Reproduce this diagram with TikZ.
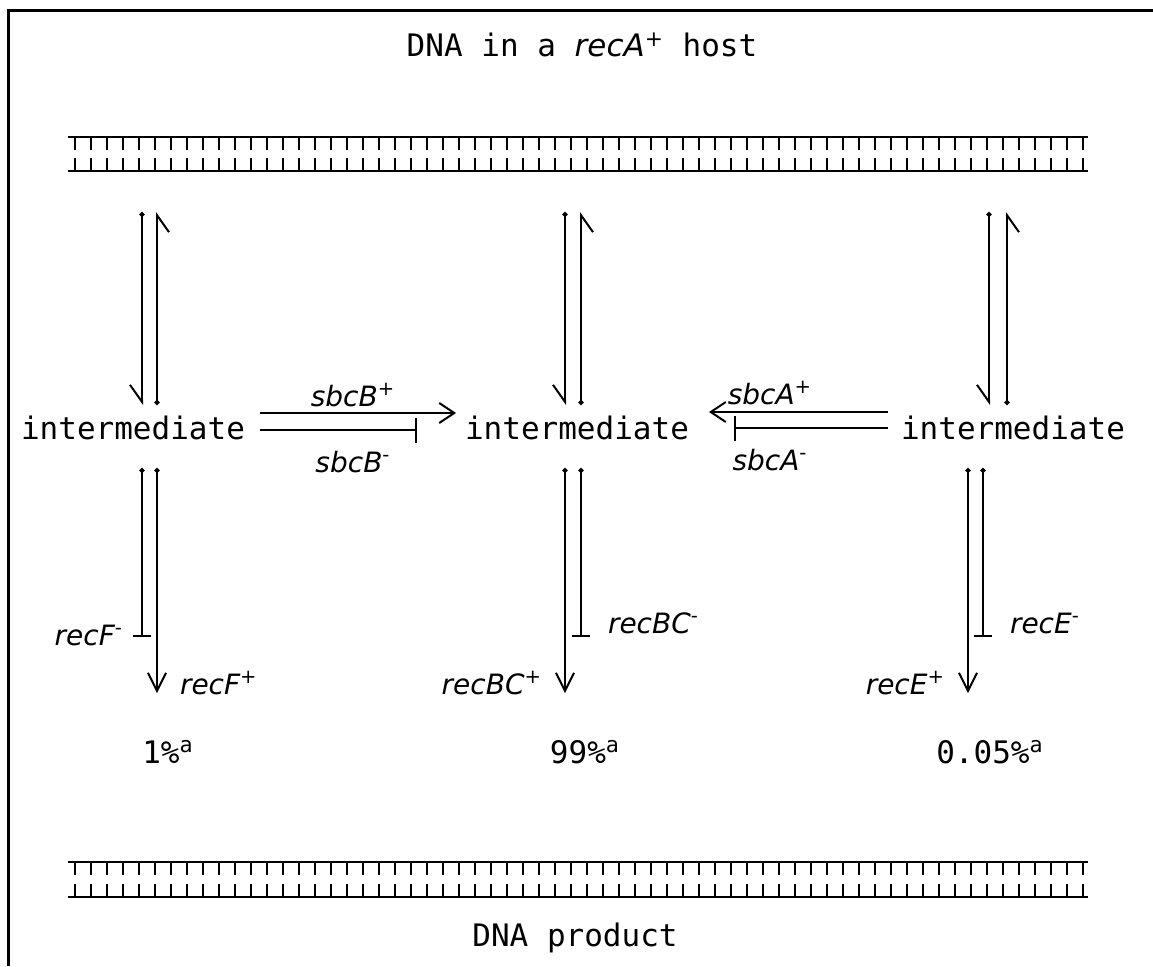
\documentclass[tikz,border=0pt]{standalone}
\usepackage{fontspec}
\setmainfont{DejaVu Sans Mono}
\newfontfamily\genefont{DejaVu Sans}
\usetikzlibrary{arrows.meta,positioning,calc}

\newcommand{\gene}[2]{{\genefont\itshape #1}\textsuperscript{\genefont #2}}

\begin{document}
\begin{tikzpicture}[
  x=0.5pt,
  y=-0.5pt,
  line width=1pt,
  word/.style={font=\fontsize{15.5}{18}\selectfont,inner sep=0pt},
  genetext/.style={font=\fontsize{14}{17}\selectfont,inner sep=0pt},
  strand/.style={line width=1.4pt},
  rung/.style={line width=1.2pt},
  fwd/.style={{Circle[length=2.5pt]}-{Straight Barb[harpoon,swap,length=8.5pt,width=12pt]}},
  go/.style={{Circle[length=2.5pt]}-{Straight Barb[length=9pt,width=9pt]}},
  block/.style={{Circle[length=2.5pt]}-{Bar[width=9pt]}},
  hgo/.style={-{Straight Barb[length=7.5pt,width=10pt]}},
  hblock/.style={-{Bar[width=12.5pt]}}
]
\useasboundingbox (0,0) rectangle (1153,966);

% frame
\draw[line width=1.5pt] (8,966) -- (8,10) -- (1153,10);

\node[word] (title) at (582,45) {DNA in a \gene{recA}{+} host};

% top duplex
\draw[strand] (68,137) -- (1088,137);
\draw[strand] (68,171) -- (1088,171);
\foreach \i in {0,...,63} {
  \draw[rung] (75+16*\i,137) -- ++(0,13);
  \draw[rung] (75+16*\i,171) -- ++(0,-13);
}

\node[word] (intL) at (133,428) {intermediate};
\node[word] (intM) at (577,428) {intermediate};
\node[word] (intR) at (1013,428) {intermediate};

% ends of the vertical steps
\coordinate (upL) at (149.5,212);
\coordinate (midL) at (149.5,405);
\coordinate (lowL) at (149.5,468);
\coordinate (endL) at (149.5,693);
\coordinate (upM) at (573,212);
\coordinate (midM) at (573,405);
\coordinate (lowM) at (573,468);
\coordinate (endM) at (573,693);
\coordinate (upR) at (998,212);
\coordinate (midR) at (998,405);
\coordinate (lowR) at (975.5,468);
\coordinate (endR) at (975.5,693);

\draw[fwd] ([xshift=-3.75pt]upL) -- ([xshift=-3.75pt]midL);
\draw[fwd] ([xshift=3.75pt]midL) -- ([xshift=3.75pt]upL);
\draw[fwd] ([xshift=-4pt]upM) -- ([xshift=-4pt]midM);
\draw[fwd] ([xshift=4pt]midM) -- ([xshift=4pt]upM);
\draw[fwd] ([xshift=-4.5pt]upR) -- ([xshift=-4.5pt]midR);
\draw[fwd] ([xshift=4.5pt]midR) -- ([xshift=4.5pt]upR);

\draw[block] ([xshift=-3.75pt]lowL) -- ([shift={(-7.5,-56)}]endL);
\draw[go] ([xshift=3.75pt]lowL) -- ([xshift=3.75pt]endL);
\draw[go] ([xshift=-4pt]lowM) -- ([xshift=-4pt]endM);
\draw[block] ([xshift=4pt]lowM) -- ([shift={(8,-56)}]endM);
\draw[go] ([xshift=-3.75pt]lowR) -- ([xshift=-3.75pt]endR);
\draw[block] ([xshift=3.75pt]lowR) -- ([shift={(7.5,-56)}]endR);

\node[genetext,left=9pt of {$(endL)+(-7.5,-58)$}] (recFm) {\gene{recF}{-}};
\node[genetext,right=11pt of {$(endL)+(7.5,-10)$}] (recFp) {\gene{recF}{+}};
\node[genetext,right=13pt of {$(endM)+(8,-70)$}] (recBCm) {\gene{recBC}{-}};
\node[genetext,left=11pt of {$(endM)+(-8,-10)$}] (recBCp) {\gene{recBC}{+}};
\node[genetext,right=13pt of {$(endR)+(7.5,-70)$}] (recEm) {\gene{recE}{-}};
\node[genetext,left=11pt of {$(endR)+(-7.5,-10)$}] (recEp) {\gene{recE}{+}};

% side reactions
\draw[hgo] ([shift={(14,-15)}]intL.east) -- ([shift={(-8,-15)}]intM.west);
\draw[hblock] ([shift={(14,2)}]intL.east) -- ([shift={(-47,2)}]intM.west);
\draw[hgo] ([shift={(-12,-16)}]intR.west) -- ([shift={(19,-16)}]intM.east);
\draw[hblock] ([shift={(-12,0)}]intR.west) -- ([shift={(44,0)}]intM.east);

\node[genetext] (sbcBp) at (353,395) {\gene{sbcB}{+}};
\node[genetext] (sbcBm) at (353,462) {\gene{sbcB}{-}};
\node[genetext] (sbcAp) at (770,393) {\gene{sbcA}{+}};
\node[genetext] (sbcAm) at (770,460) {\gene{sbcA}{-}};

\node[word] (pctL) at (168,752) {1\%\textsuperscript{a}};
\node[word] (pctM) at (585,752) {99\%\textsuperscript{a}};
\node[word] (pctR) at (990,752) {0.05\%\textsuperscript{a}};

% bottom duplex
\draw[strand] (68,862) -- (1088,862);
\draw[strand] (68,897) -- (1088,897);
\foreach \i in {0,...,63} {
  \draw[rung] (75+16*\i,862) -- ++(0,13);
  \draw[rung] (75+16*\i,897) -- ++(0,-13);
}

\node[word] (product) at (575,938) {DNA product};

\end{tikzpicture}
\end{document}
